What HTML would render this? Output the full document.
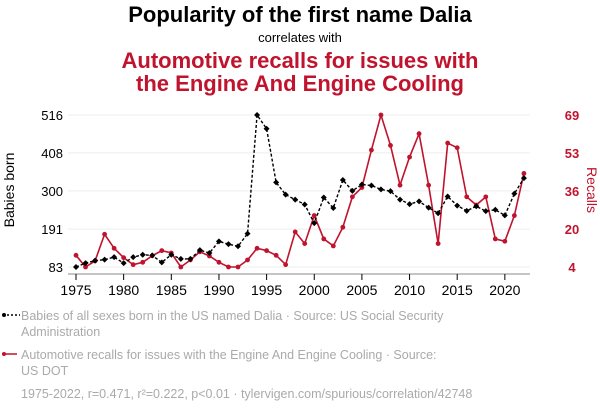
<!DOCTYPE html>
<html><head><meta charset="utf-8"><style>
body{margin:0;background:#fff;width:600px;height:414px;overflow:hidden;font-family:"Liberation Sans",sans-serif;}
svg{position:absolute;left:0;top:0}
</style></head><body>
<svg id="c" width="600" height="414">
<text x="300" y="22" text-anchor="middle" font-size="22" font-weight="bold" fill="#000">Popularity of the first name Dalia</text>
<text x="300" y="42" text-anchor="middle" font-size="13" fill="#000">correlates with</text>
<text x="300" y="68" text-anchor="middle" font-size="22" font-weight="bold" fill="#c0132d">Automotive recalls for issues with</text>
<text x="300" y="91" text-anchor="middle" font-size="22" font-weight="bold" fill="#c0132d">the Engine And Engine Cooling</text>
<text transform="translate(14,190) rotate(-90)" text-anchor="middle" font-size="14" fill="#000">Babies born</text>
<text transform="translate(587,190) rotate(90)" text-anchor="middle" font-size="14" fill="#c0132d">Recalls</text>
<g id="grid"></g><g id="axes"></g><g id="series"></g>
<g>
<line x1="3" y1="315" x2="20" y2="315" stroke="#000" stroke-width="1.5" stroke-dasharray="2,2"/>
<circle cx="4" cy="315" r="2" fill="#000"/>
<text x="21" y="320" font-size="12.5" fill="#aaa">Babies of all sexes born in the US named Dalia · Source: US Social Security</text>
<text x="21" y="336" font-size="12.5" fill="#aaa">Administration</text>
</g>
<g>
<line x1="3" y1="354" x2="17" y2="354" stroke="#c0132d" stroke-width="1.5"/>
<circle cx="4" cy="354" r="2" fill="#c0132d"/>
<text x="21" y="359" font-size="12.5" fill="#aaa">Automotive recalls for issues with the Engine And Engine Cooling · Source:</text>
<text x="21" y="375" font-size="12.5" fill="#aaa">US DOT</text>
</g>
<text x="21" y="398" font-size="12.5" fill="#aaa">1975-2022, r=0.471, r²=0.222, p&lt;0.01 · tylervigen.com/spurious/correlation/42748</text>
</svg>
<script>
const years=[1975,1976,1977,1978,1979,1980,1981,1982,1983,1984,1985,1986,1987,1988,1989,1990,1991,1992,1993,1994,1995,1996,1997,1998,1999,2000,2001,2002,2003,2004,2005,2006,2007,2008,2009,2010,2011,2012,2013,2014,2015,2016,2017,2018,2019,2020,2021,2022];
const babies=[83,94,101,104,111,94,111,118,116,96,118,106,106,131,123,156,148,142,178,516,477,324,289,275,261,208,281,251,331,300,318,315,304,299,275,262,270,252,236,284,258,243,256,242,246,230,292,336];
const recalls=[9,4,6.6,18,12,8,5,6,8.8,11,10,4,7,10.5,8.7,6,4,4,7,12,11,9,5,19,14,26,16,13,21,34,38,54,69,56,39,51,61,39,14,57,55,34,30.5,34,16,15,26,44];
const leftTicks=[83,191,300,408,516];
const rightTicks=[4,20,36,53,69];
const xTicks=[1975,1980,1985,1990,1995,2000,2005,2010,2015,2020];
const NS="http://www.w3.org/2000/svg";
const x=y=>76+(y-1975)*9.53;
const yL=v=>267-(v-83)*152/433;
const yR=v=>267-(v-4)*152/65;
function mk(t,a,p){const e=document.createElementNS(NS,t);for(const k in a)e.setAttribute(k,a[k]);p.appendChild(e);return e;}
const grid=document.getElementById('grid'),axes=document.getElementById('axes'),ser=document.getElementById('series');
leftTicks.forEach((v,i)=>{
 const g=mk('line',{x1:68,x2:530,y1:yL(v),y2:yL(v),stroke:'#eee','stroke-width':1},grid);
 
 
 const t=mk('text',{x:63,y:yL(v)+5,'font-size':13,'text-anchor':'end',fill:'#000'},axes);
 t.textContent=v;
 
 
 const r=mk('text',{x:572,y:yL(v)+5,'font-size':13,'text-anchor':'middle',fill:'#c0132d','font-weight':'bold'},axes);
 r.textContent=rightTicks[i];
 
 
});
const ax=mk('line',{x1:68,x2:530,y1:274,y2:274,stroke:'#888','stroke-width':1},axes);


xTicks.forEach(v=>{
 const tk=mk('line',{x1:x(v),x2:x(v),y1:274,y2:280,stroke:'#000'},axes);
 
 
 const t=mk('text',{x:x(v),y:295,'font-size':14,'text-anchor':'middle',fill:'#000'},axes);
 t.textContent=v;
 
 
});
const rp=mk('polyline',{points:years.map((y,i)=>x(y)+','+yR(recalls[i])).join(' '),fill:'none',stroke:'#c0132d','stroke-width':1.6},ser);


years.forEach((y,i)=>{
 const c=mk('circle',{cx:x(y),cy:yR(recalls[i]),r:2.4,fill:'#c0132d'},ser);
 
 
});
const bp=mk('polyline',{points:years.map((y,i)=>x(y)+','+yL(babies[i])).join(' '),fill:'none',stroke:'#000','stroke-width':1.4,'stroke-dasharray':'3,2'},ser);


years.forEach((y,i)=>{
 const cx=x(y),cy=yL(babies[i]);
 const d=mk('polygon',{points:`${cx},${cy-3} ${cx+3},${cy} ${cx},${cy+3} ${cx-3},${cy}`,fill:'#000'},ser);
 
 
});
</script>
</body></html>
